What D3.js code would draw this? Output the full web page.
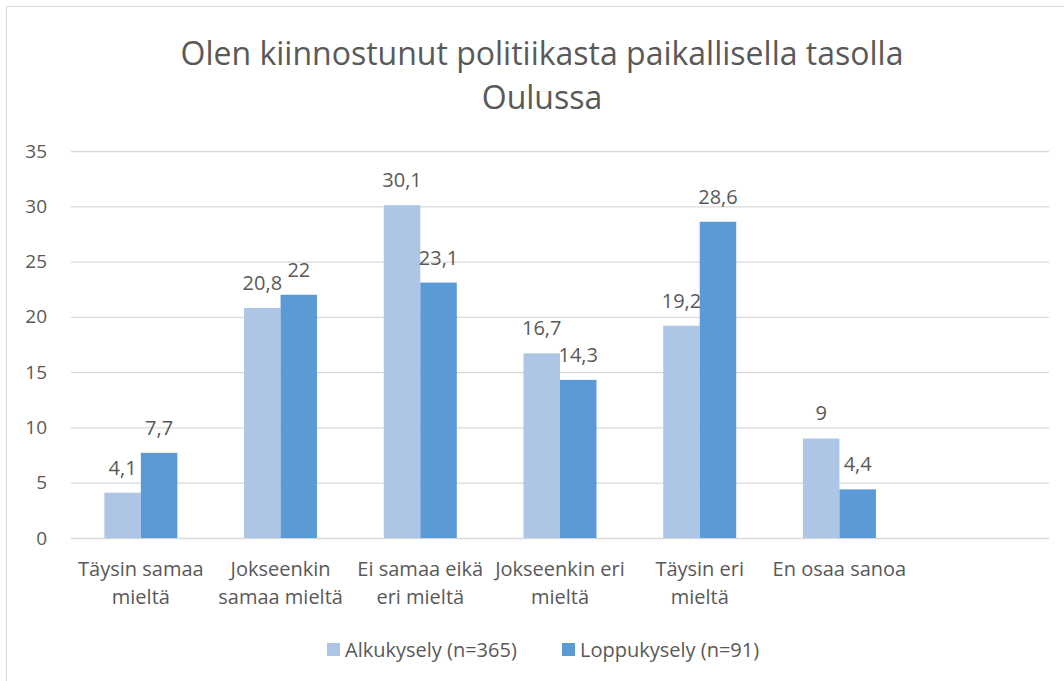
<!DOCTYPE html>
<html>
<head>
<meta charset="utf-8">
<script src="https://cdn.jsdelivr.net/npm/d3@7"></script>
<style>
  body { margin: 0; background: #fff; }
  text { font-family: "Open Sans", "Noto Sans", sans-serif; fill: #595959; }
</style>
</head>
<body>
<div class="chart"></div>
<script>
const categories = [
  ['Täysin samaa', 'mieltä'],
  ['Jokseenkin', 'samaa mieltä'],
  ['Ei samaa eikä', 'eri mieltä'],
  ['Jokseenkin eri', 'mieltä'],
  ['Täysin eri', 'mieltä'],
  ['En osaa sanoa'],
  ['']
];
const seriesNames = ['Alkukysely (n=365)', 'Loppukysely (n=91)'];
const alku = [4.1, 20.8, 30.1, 16.7, 19.2, 9, null];
const loppu = [7.7, 22, 23.1, 14.3, 28.6, 4.4, null];
const yTicks = [0, 5, 10, 15, 20, 25, 30, 35];
const colors = ['#adc6e5', '#5b9bd5'];

const width = 1064;
const height = 681;
const margin = { top: 151, right: 15, bottom: 143, left: 71 };

const svg = d3.select('.chart')
  .append('svg')
  .attr('width', width)
  .attr('height', height);

// chart border
svg.append('rect')
  .attr('x', 6.5).attr('y', 6.5)
  .attr('width', width).attr('height', height)
  .attr('fill', 'none')
  .attr('stroke', '#d9d9d9');

const x = d3.scaleBand()
  .domain(d3.range(categories.length))
  .range([margin.left, width - margin.right]);

const xInner = d3.scaleBand()
  .domain([0, 1])
  .range([0, 73]);

const y = d3.scaleLinear()
  .domain([0, 35])
  .range([height - margin.bottom, margin.top]);

// title
svg.append('text')
  .attr('x', 542).attr('y', 65)
  .attr('text-anchor', 'middle')
  .style('font-size', '32px')
  .text('Olen kiinnostunut politiikasta paikallisella tasolla');
svg.append('text')
  .attr('x', 542).attr('y', 109)
  .attr('text-anchor', 'middle')
  .style('font-size', '32px')
  .text('Oulussa');

// gridlines + y labels
const yAxis = svg.append('g')
  .attr('transform', `translate(${margin.left},0)`)
  .call(d3.axisLeft(y).tickValues(yTicks).tickSize(-(width - margin.left - margin.right)).tickPadding(24));
yAxis.select('.domain').remove();
yAxis.selectAll('.tick line').attr('stroke', '#d9d9d9').attr('stroke-width', 1.3);
yAxis.selectAll('.tick text').style('font-size', '19px').attr('fill', '#595959');

// bars
const series = [alku, loppu];
series.forEach((vals, si) => {
  const pts = vals.map((v, i) => ({ v, i })).filter(d => d.v !== null);
  svg.append('g')
    .selectAll('rect')
    .data(pts)
    .enter()
    .append('rect')
    .attr('x', d => x(d.i) + x.bandwidth() / 2 - 36.5 + xInner(si))
    .attr('y', d => y(d.v))
    .attr('width', xInner.bandwidth())
    .attr('height', d => y(0) - y(d.v))
    .attr('fill', colors[si]);

  svg.append('g')
    .selectAll('text')
    .data(pts)
    .enter()
    .append('text')
    .attr('x', d => x(d.i) + x.bandwidth() / 2 - 36.5 + xInner(si) + xInner.bandwidth() / 2)
    .attr('y', d => y(d.v) - 18)
    .attr('text-anchor', 'middle')
    .style('font-size', '20px')
    .text(d => String(d.v).replace('.', ','));
});

// x labels
const xl = svg.append('g')
  .selectAll('text')
  .data(categories)
  .enter()
  .append('text')
  .attr('text-anchor', 'middle')
  .style('font-size', '20px');
xl.each(function (lines, i) {
  const t = d3.select(this);
  lines.forEach((l, j) => {
    t.append('tspan')
      .attr('x', x(i) + x.bandwidth() / 2)
      .attr('y', 576 + j * 28)
      .text(l);
  });
});

// legend
const legend = svg.append('g');
const legendX = [327, 562];
seriesNames.forEach((name, i) => {
  legend.append('rect')
    .attr('x', legendX[i]).attr('y', 643)
    .attr('width', 13).attr('height', 13)
    .attr('fill', colors[i]);
  legend.append('text')
    .attr('x', legendX[i] + 18).attr('y', 657)
    .style('font-size', '20px')
    .text(name);
});
</script>
</body>
</html>
